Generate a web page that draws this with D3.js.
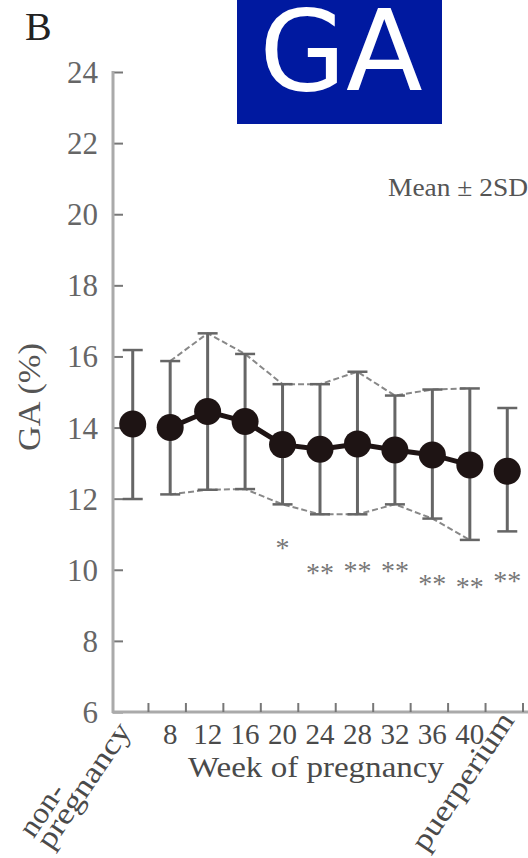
<!DOCTYPE html>
<html>
<head>
<meta charset="utf-8">
<script src="https://cdn.jsdelivr.net/npm/d3@7"></script>
<style>
  html, body { margin: 0; padding: 0; background: #fff; }
  svg { display: block; }
</style>
</head>
<body>
<svg id="chart" width="528" height="858"></svg>
<script>
// ---- data ----
const categories = ["non-pregnancy", "8", "12", "16", "20", "24", "28", "32", "36", "40", "puerperium"];
const meanValues = [14.1, 14.0, 14.45, 14.17, 13.52, 13.39, 13.54, 13.37, 13.23, 12.95, 12.77];
const upperValues = [16.18, 15.87, 16.65, 16.07, 15.22, 15.22, 15.57, 14.9, 15.07, 15.1, 14.55];
const lowerValues = [11.99, 12.12, 12.25, 12.27, 11.84, 11.56, 11.56, 11.84, 11.44, 10.84, 11.08];
const sigMarks = ["", "", "", "", "*", "**", "**", "**", "**", "**", "**"];
const sigValues = [null, null, null, null, 10.72, 10.02, 10.07, 10.07, 9.71, 9.63, 9.8];
const yTicks = [6, 8, 10, 12, 14, 16, 18, 20, 22, 24];
const connected = ["8", "12", "16", "20", "24", "28", "32", "36", "40"];

const svg = d3.select("#chart");
const serif = "'Liberation Serif', 'Times New Roman', serif";

const x = d3.scaleBand().domain(categories).range([114, 526]);
const y = d3.scaleLinear().domain([6, 24]).range([712, 72]);
const cx = c => x(c) + x.bandwidth() / 2;

// ---- title box ----
svg.append("rect").attr("x", 237).attr("y", 0).attr("width", 205).attr("height", 124).attr("fill", "#0019a0");
svg.append("text").attr("x", 341).attr("y", 90).attr("text-anchor", "middle")
  .attr("font-family", "'DejaVu Sans', sans-serif").attr("font-size", 112).attr("fill", "#fff").text("GA");

// panel letter
svg.append("text").attr("x", 25).attr("y", 40).attr("font-family", serif).attr("font-size", 40)
  .attr("fill", "#222").text("B");

// ---- y axis ----
const yAxis = d3.axisLeft(y).tickValues(yTicks).tickSize(-10).tickPadding(15).tickFormat(d3.format("d"));
const gy = svg.append("g").attr("transform", "translate(113,0)").call(yAxis);
gy.select(".domain").remove();
gy.selectAll(".tick line").attr("stroke", "#777").attr("stroke-width", 2);
gy.selectAll(".tick text").attr("font-family", serif).attr("font-size", 31).attr("fill", "#666")
  .attr("dy", "0.34em");
svg.append("line").attr("x1", 113).attr("x2", 113).attr("y1", y(24) - 1).attr("y2", y(6) + 1)
  .attr("stroke", "#aaa").attr("stroke-width", 3);

// ---- x axis ----
svg.append("line").attr("x1", 112).attr("x2", 528).attr("y1", y(6)).attr("y2", y(6))
  .attr("stroke", "#aaa").attr("stroke-width", 3);
svg.append("g").selectAll("line").data(categories).join("line")
  .attr("x1", c => x(c) + x.bandwidth() - 3).attr("x2", c => x(c) + x.bandwidth() - 3)
  .attr("y1", y(6)).attr("y2", y(6) - 9).attr("stroke", "#777").attr("stroke-width", 2);

// numeric tick labels
svg.append("g").selectAll("text").data(categories.slice(1, 10)).join("text")
  .attr("x", c => cx(c)).attr("y", 744).attr("text-anchor", "middle")
  .attr("font-family", serif).attr("font-size", 29).attr("fill", "#4a4a4a").text(c => c);

// rotated labels
const ang = -56;
const rad = ang * Math.PI / 180;
const up = [Math.sin(rad), -Math.cos(rad)];
function rotLabel(px, py, txt, len) {
  svg.append("text").attr("transform", `translate(${px},${py}) rotate(${ang})`)
    .attr("font-family", serif).attr("font-size", 30).attr("fill", "#4a4a4a")
    .attr("textLength", len).attr("lengthAdjust", "spacingAndGlyphs").text(txt);
}
rotLabel(51, 851, "pregnancy", 145);
rotLabel(51 + 21 * up[0], 851 + 21 * up[1], "non-", 58);
rotLabel(426, 853, "puerperium", 160);

// axis titles
svg.append("text").attr("x", 316).attr("y", 777).attr("text-anchor", "middle")
  .attr("font-family", serif).attr("font-size", 29).attr("fill", "#4a4a4a")
  .attr("textLength", 256).attr("lengthAdjust", "spacingAndGlyphs").text("Week of pregnancy");
svg.append("text").attr("transform", "translate(40,397) rotate(-90)").attr("text-anchor", "middle")
  .attr("font-family", serif).attr("font-size", 31).attr("fill", "#555")
  .attr("textLength", 108).attr("lengthAdjust", "spacingAndGlyphs").text("GA (%)");

svg.append("text").attr("x", 388).attr("y", 196)
  .attr("font-family", serif).attr("font-size", 25).attr("fill", "#555")
  .attr("textLength", 140).attr("lengthAdjust", "spacingAndGlyphs").text("Mean \u00B1 2SD");

// ---- envelope (dashed) ----
const idx = connected.map(c => categories.indexOf(c));
const lineGen = d3.line().x(d => d[0]).y(d => d[1]);
svg.append("path").attr("d", lineGen(idx.map(i => [cx(categories[i]), y(upperValues[i])])))
  .attr("fill", "none").attr("stroke", "#888").attr("stroke-width", 2).attr("stroke-dasharray", "6,3");
svg.append("path").attr("d", lineGen(idx.map(i => [cx(categories[i]), y(lowerValues[i])])))
  .attr("fill", "none").attr("stroke", "#888").attr("stroke-width", 2).attr("stroke-dasharray", "6,3");

// ---- error bars ----
const eb = svg.append("g");
categories.forEach((c, i) => {
  eb.append("line").attr("x1", cx(c)).attr("x2", cx(c)).attr("y1", y(upperValues[i])).attr("y2", y(lowerValues[i]))
    .attr("stroke", "#666").attr("stroke-width", 3);
  [upperValues[i], lowerValues[i]].forEach(v => {
    eb.append("line").attr("x1", cx(c) - 10).attr("x2", cx(c) + 10).attr("y1", y(v)).attr("y2", y(v))
      .attr("stroke", "#666").attr("stroke-width", 2.5);
  });
});

// ---- mean line & markers ----
svg.append("path").attr("d", lineGen(idx.map(i => [cx(categories[i]), y(meanValues[i])])))
  .attr("fill", "none").attr("stroke", "#1e1414").attr("stroke-width", 5);
svg.append("g").selectAll("circle").data(categories).join("circle")
  .attr("cx", c => cx(c)).attr("cy", (c, i) => y(meanValues[i])).attr("r", 13.5).attr("fill", "#1e1414");

// ---- significance marks ----
svg.append("g").selectAll("text").data(categories.filter((c, i) => sigMarks[i])).join("text")
  .attr("x", c => cx(c)).attr("y", c => y(sigValues[categories.indexOf(c)]) + 13)
  .attr("text-anchor", "middle").attr("font-family", serif).attr("font-size", 28).attr("fill", "#777")
  .text(c => sigMarks[categories.indexOf(c)]);
</script>
</body>
</html>
